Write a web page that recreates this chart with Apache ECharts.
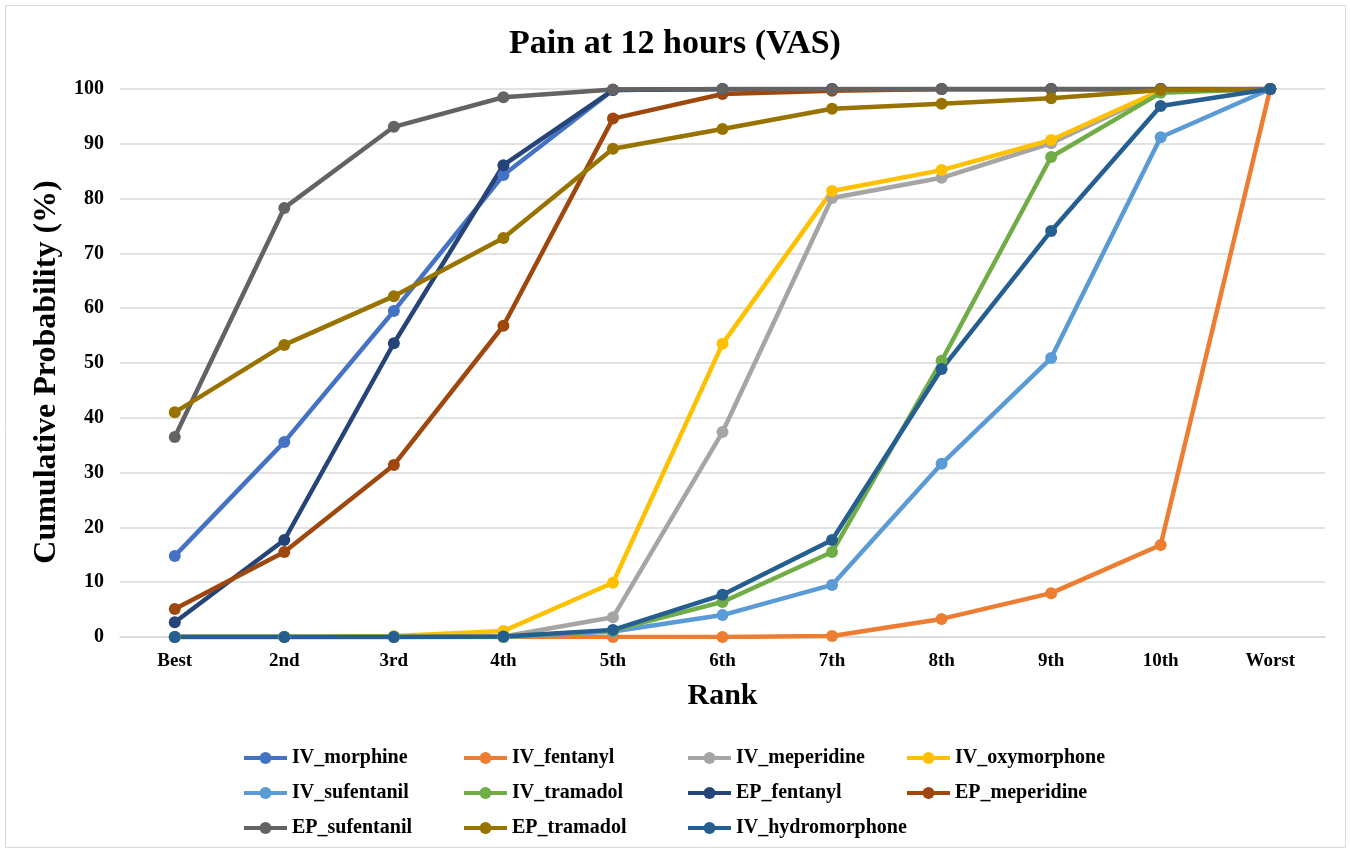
<!DOCTYPE html>
<html>
<head>
<meta charset="utf-8">
<script src="https://cdn.jsdelivr.net/npm/echarts@6/dist/echarts.min.js"></script>
<style>
html,body{margin:0;padding:0;background:#fff;}
#chart{width:1350px;height:852px;}
</style>
</head>
<body>
<div id="chart"></div>
<script>
const categories = ['Best','2nd','3rd','4th','5th','6th','7th','8th','9th','10th','Worst'];
const yTicks = [0,10,20,30,40,50,60,70,80,90,100];

const IV_morphine      = [14.8, 35.6, 59.5, 84.3, 99.8, 100, 100, 100, 100, 100, 100];
const IV_fentanyl      = [0, 0, 0, 0, 0, 0, 0.2, 3.3, 8.0, 16.8, 100];
const IV_meperidine    = [0, 0, 0, 0.1, 3.6, 37.4, 80.1, 83.8, 90.1, 99.5, 100];
const IV_oxymorphone   = [0, 0, 0.2, 1.1, 9.9, 53.5, 81.4, 85.2, 90.7, 99.7, 100];
const IV_sufentanil    = [0, 0, 0, 0, 1.0, 4.0, 9.5, 31.6, 50.9, 91.2, 100];
const IV_tramadol      = [0, 0, 0, 0, 1.2, 6.4, 15.5, 50.4, 87.6, 99.3, 100];
const EP_fentanyl      = [2.7, 17.7, 53.6, 86.1, 99.8, 100, 100, 100, 100, 100, 100];
const EP_meperidine    = [5.1, 15.5, 31.4, 56.8, 94.6, 99.1, 99.7, 100, 100, 100, 100];
const EP_sufentanil    = [36.5, 78.3, 93.1, 98.5, 99.9, 100, 100, 100, 100, 100, 100];
const EP_tramadol      = [41.0, 53.3, 62.2, 72.8, 89.1, 92.7, 96.4, 97.3, 98.3, 99.8, 100];
const IV_hydromorphone = [0, 0, 0, 0.1, 1.3, 7.7, 17.7, 48.9, 74.1, 96.9, 100];

const seriesNames = ['IV_morphine','IV_fentanyl','IV_meperidine','IV_oxymorphone','IV_sufentanil','IV_tramadol','EP_fentanyl','EP_meperidine','EP_sufentanil','EP_tramadol','IV_hydromorphone'];
const seriesData = [IV_morphine, IV_fentanyl, IV_meperidine, IV_oxymorphone, IV_sufentanil, IV_tramadol, EP_fentanyl, EP_meperidine, EP_sufentanil, EP_tramadol, IV_hydromorphone];
const colors = ['#4472C4','#ED7D31','#A5A5A5','#FFC000','#5B9BD5','#70AD47','#264478','#9E480E','#636363','#997300','#255E91'];

const serif = '"Liberation Serif","Times New Roman",serif';

const chart = echarts.init(document.getElementById('chart'), null, {renderer:'canvas'});

const legendCols = [
  {left: 242, names: ['IV_morphine','IV_sufentanil','EP_sufentanil']},
  {left: 462, names: ['IV_fentanyl','IV_tramadol','EP_tramadol']},
  {left: 686, names: ['IV_meperidine','EP_fentanyl','IV_hydromorphone']},
  {left: 905, names: ['IV_oxymorphone','EP_meperidine']}
];

const option = {
  backgroundColor: '#fff',
  animation: false,
  color: colors,
  title: {
    text: 'Pain at 12 hours (VAS)',
    left: 'center',
    top: 22,
    textStyle: {fontFamily: serif, fontWeight: 'bold', fontSize: 34, color: '#000'}
  },
  graphic: [{
    type: 'rect',
    shape: {x: 5.5, y: 5.5, width: 1340, height: 842},
    style: {fill: 'none', stroke: '#d9d9d9', lineWidth: 1},
    silent: true
  }],
  legend: legendCols.map(c => ({
    orient: 'vertical',
    left: c.left,
    top: 748,
    padding: 0,
    data: c.names,
    itemWidth: 43,
    itemHeight: 15,
    itemGap: 15,
    lineStyle: {width: 4},
    textStyle: {fontFamily: serif, fontWeight: 'bold', fontSize: 20, color: '#000', lineHeight: 20}
  })),
  grid: {left: 120, right: 25, top: 89, bottom: 215},
  xAxis: {
    type: 'category',
    data: categories,
    boundaryGap: true,
    name: 'Rank',
    nameLocation: 'middle',
    nameGap: 44,
    nameTextStyle: {fontFamily: serif, fontWeight: 'bold', fontSize: 30, color: '#000'},
    axisLine: {show: true, lineStyle: {color: '#d9d9d9', width: 1.5}},
    axisTick: {show: false},
    axisLabel: {fontFamily: serif, fontWeight: 'bold', fontSize: 19, color: '#000', margin: 15}
  },
  yAxis: {
    type: 'value',
    min: 0,
    max: 100,
    interval: 10,
    name: 'Cumulative Probability (%)',
    nameLocation: 'middle',
    nameGap: 52,
    nameRotate: 90,
    nameTextStyle: {fontFamily: serif, fontWeight: 'bold', fontSize: 32, color: '#000', padding: [0, 18, 0, 0]},
    axisLine: {show: false},
    axisTick: {show: false},
    splitLine: {lineStyle: {color: '#d9d9d9', width: 1.5}},
    axisLabel: {
      fontFamily: serif, fontWeight: 'bold', fontSize: 20, color: '#000', margin: 16,
      formatter: v => yTicks.includes(v) ? String(v) : ''
    }
  },
  series: seriesNames.map((n, i) => ({
    name: n,
    type: 'line',
    data: seriesData[i],
    symbol: 'circle',
    symbolSize: 12,
    showSymbol: true,
    lineStyle: {width: 4.5, color: colors[i]},
    itemStyle: {color: colors[i]},
    emphasis: {disabled: true}
  }))
};
chart.setOption(option);
</script>
</body>
</html>
